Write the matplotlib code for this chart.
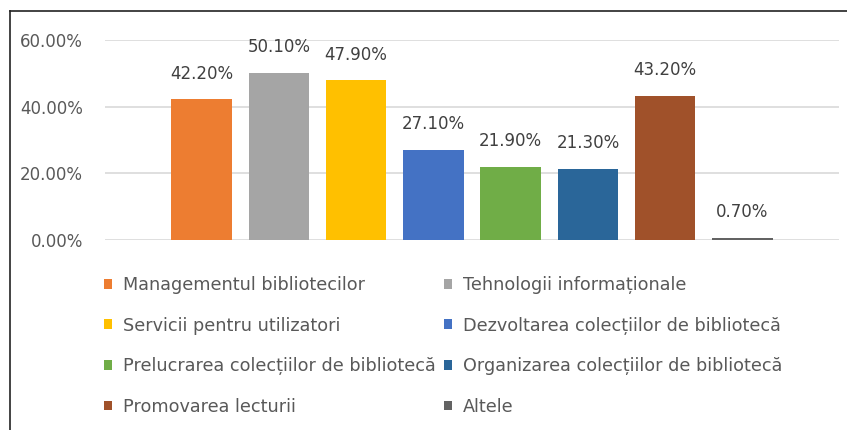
import matplotlib.pyplot as plt
from matplotlib.patches import Patch
from matplotlib.lines import Line2D
from matplotlib.ticker import FuncFormatter

# Data
categories = [
    "Managementul bibliotecilor",
    "Tehnologii informaționale",
    "Servicii pentru utilizatori",
    "Dezvoltarea colecțiilor de bibliotecă",
    "Prelucrarea colecțiilor de bibliotecă",
    "Organizarea colecțiilor de bibliotecă",
    "Promovarea lecturii",
    "Altele",
]
values = [0.422, 0.501, 0.479, 0.271, 0.219, 0.213, 0.432, 0.007]
colors = ["#ED7D31", "#A5A5A5", "#FFC000", "#4472C4",
          "#70AD47", "#2A6699", "#A0512A", "#636363"]
y_ticks = [0.0, 0.2, 0.4, 0.6]

plt.rcParams['font.family'] = ['DejaVu Sans']

fig = plt.figure(figsize=(8.47, 4.30), dpi=100)
ax = fig.add_axes([105 / 847, 1 - 240 / 430, 734 / 847, 200 / 430])

x = list(range(len(values)))
ax.bar(x, values, width=0.78, color=colors, zorder=3)

# Data labels above each bar
for xi, v in zip(x, values):
    ax.annotate(f"{v:.2%}", (xi, v), xytext=(0, 12), textcoords='offset points',
                ha='center', va='bottom', fontsize=12, color='#404040')

ax.set_xlim(-1.25, 8.25)
ax.set_ylim(0, 0.6)
ax.set_yticks(y_ticks)
ax.yaxis.set_major_formatter(FuncFormatter(lambda v, _: f"{v:.2%}"))
ax.set_xticks([])
ax.tick_params(axis='y', length=0, pad=16, labelsize=12, labelcolor='#595959')
ax.grid(axis='y', color='#D9D9D9', linewidth=1.2, zorder=0)
for s in ax.spines.values():
    s.set_visible(False)

# Legend fills row by row in the reference, matplotlib fills column-first
handles = [Patch(facecolor=c) for c in colors]
order = [0, 2, 4, 6, 1, 3, 5, 7]
fig.legend([handles[i] for i in order], [categories[i] for i in order],
           ncol=2, loc='upper left', bbox_to_anchor=(104 / 847, 1 - 276 / 430),
           frameon=False, fontsize=12.7, labelcolor='#595959',
           handlelength=0.48, handleheight=0.48, handletextpad=0.6,
           columnspacing=0.45, labelspacing=1.28, borderpad=0, borderaxespad=0)

# Outer border (left and top visible in the reference)
fig.add_artist(Line2D([10 / 847, 10 / 847], [0, 1 - 11 / 430], color='#222222', linewidth=1.2))
fig.add_artist(Line2D([10 / 847, 1], [1 - 11 / 430, 1 - 11 / 430], color='#222222', linewidth=1.2))

fig.savefig("out.png", dpi=100)
